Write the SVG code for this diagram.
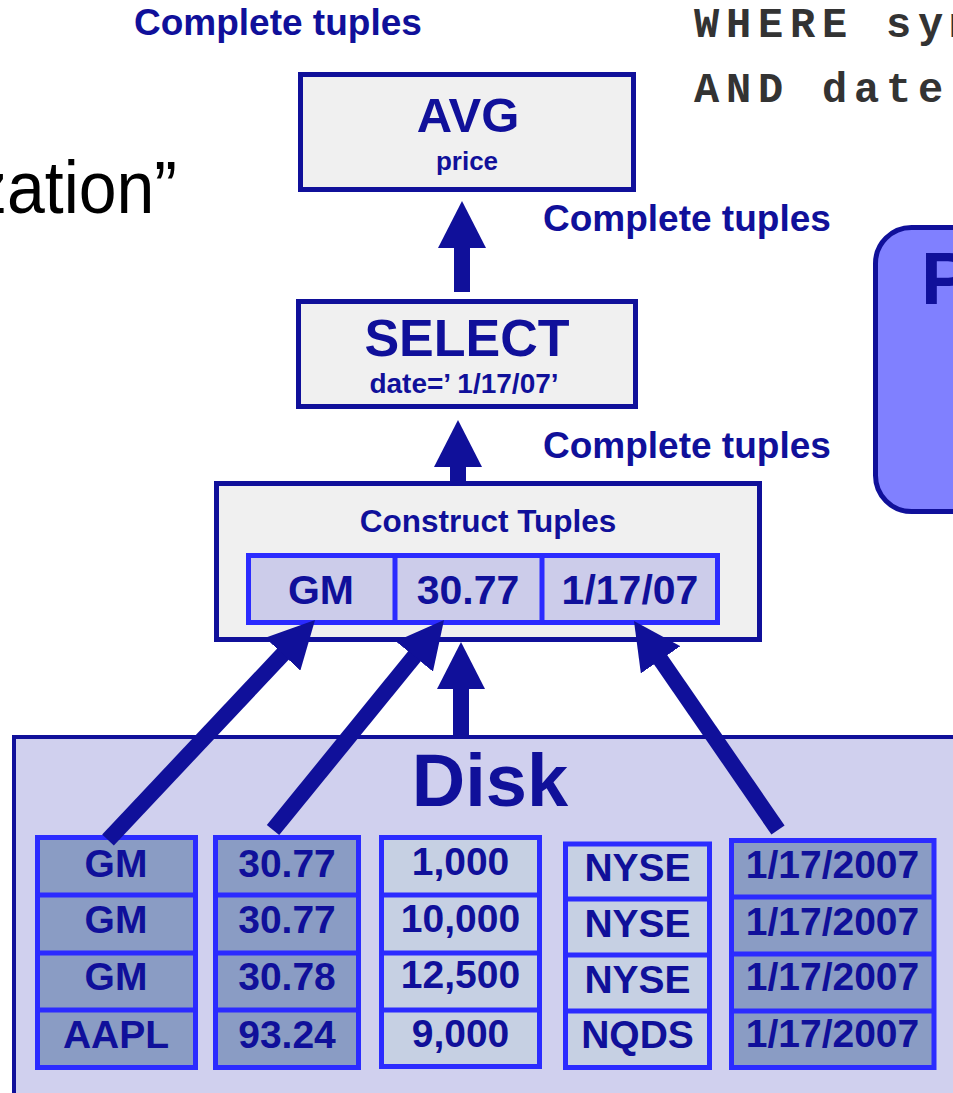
<svg xmlns="http://www.w3.org/2000/svg" width="953" height="1093" viewBox="0 0 953 1093">
<defs>
<style>
.lbl{font-family:"Liberation Sans",Arial,sans-serif;font-weight:bold;fill:#10109a}
.box{fill:#f0f0f0;stroke:#10109a;stroke-width:5}
.cell{stroke:#2b2bff;stroke-width:5}
.div{stroke:#2b2bff;stroke-width:5}
.dark{fill:#8a9cc4}
.light{fill:#c6d0e3}
.ct{font-family:"Liberation Sans",Arial,sans-serif;font-weight:bold;fill:#10109a;font-size:39px;text-anchor:middle}
.mono{font-family:"Liberation Mono","Courier New",monospace;font-weight:bold;font-size:42px;letter-spacing:6.8px;fill:#333333}
.conn{stroke:#10109a;stroke-width:16;fill:none;marker-end:url(#ah)}
</style>
<marker id="ah" viewBox="0 -24 47 48" refX="2" refY="0" markerWidth="47" markerHeight="48" markerUnits="userSpaceOnUse" orient="auto">
<path d="M0,-24 L47,0 L0,24 z" fill="#10109a"/>
</marker>
</defs>
<rect width="953" height="1093" fill="#ffffff"/>

<g id="title-texts">
<text class="lbl" x="134" y="35" font-size="37">Complete tuples</text>
<text class="mono" x="694" y="37">WHERE sym</text>
<text class="mono" x="694" y="102">AND date</text>
<text transform="translate(177,213) scale(1,1.1)" text-anchor="end" font-family="Liberation Sans,Arial,sans-serif" font-size="68" fill="#000000">zation”</text>
<text class="lbl" x="543" y="231" font-size="37">Complete tuples</text>
<text class="lbl" x="543" y="458" font-size="37">Complete tuples</text>
</g>

<g id="side-box">
<rect x="875.5" y="227.5" width="200" height="284" rx="36" fill="#8080ff" stroke="#10109a" stroke-width="5"/>
<text class="lbl" x="921" y="304" font-size="75">P</text>
</g>

<g id="disk">
<rect x="14" y="737" width="1000" height="420" fill="#d0d0ee" stroke="#10109a" stroke-width="4"/>
<text class="lbl" x="490" y="806" font-size="74" text-anchor="middle">Disk</text>
</g>

<g id="col-symbol">
<rect class="cell dark" x="37.5" y="837.5" width="158" height="230"/>
<line class="div" x1="37.5" y1="895" x2="195.5" y2="895"/>
<line class="div" x1="37.5" y1="953" x2="195.5" y2="953"/>
<line class="div" x1="37.5" y1="1010" x2="195.5" y2="1010"/>
<text class="ct" x="116" y="877">GM</text>
<text class="ct" x="116" y="933">GM</text>
<text class="ct" x="116" y="990">GM</text>
<text class="ct" x="116" y="1048">AAPL</text>
</g>

<g id="col-price">
<rect class="cell dark" x="215.5" y="837.5" width="143" height="230"/>
<line class="div" x1="215.5" y1="895" x2="358.5" y2="895"/>
<line class="div" x1="215.5" y1="953" x2="358.5" y2="953"/>
<line class="div" x1="215.5" y1="1010" x2="358.5" y2="1010"/>
<text class="ct" x="287" y="877">30.77</text>
<text class="ct" x="287" y="933">30.77</text>
<text class="ct" x="287" y="990">30.78</text>
<text class="ct" x="287" y="1048">93.24</text>
</g>

<g id="col-volume">
<rect class="cell light" x="381.5" y="837.5" width="158" height="229"/>
<line class="div" x1="381.5" y1="895" x2="539.5" y2="895"/>
<line class="div" x1="381.5" y1="953" x2="539.5" y2="953"/>
<line class="div" x1="381.5" y1="1010" x2="539.5" y2="1010"/>
<text class="ct" x="460.5" y="875">1,000</text>
<text class="ct" x="460.5" y="932">10,000</text>
<text class="ct" x="460.5" y="988">12,500</text>
<text class="ct" x="460.5" y="1047">9,000</text>
</g>

<g id="col-exchange">
<rect class="cell light" x="565.5" y="844" width="144" height="223.5"/>
<line class="div" x1="565.5" y1="899" x2="709.5" y2="899"/>
<line class="div" x1="565.5" y1="955" x2="709.5" y2="955"/>
<line class="div" x1="565.5" y1="1011" x2="709.5" y2="1011"/>
<text class="ct" x="637.5" y="881">NYSE</text>
<text class="ct" x="637.5" y="937">NYSE</text>
<text class="ct" x="637.5" y="993">NYSE</text>
<text class="ct" x="637.5" y="1048">NQDS</text>
</g>

<g id="col-date">
<rect class="cell dark" x="731.5" y="840.5" width="202.5" height="227"/>
<line class="div" x1="731.5" y1="897" x2="934" y2="897"/>
<line class="div" x1="731.5" y1="954" x2="934" y2="954"/>
<line class="div" x1="731.5" y1="1011" x2="934" y2="1011"/>
<text class="ct" x="832.5" y="878">1/17/2007</text>
<text class="ct" x="832.5" y="935">1/17/2007</text>
<text class="ct" x="832.5" y="990">1/17/2007</text>
<text class="ct" x="832.5" y="1047">1/17/2007</text>
</g>

<g id="avg">
<rect class="box" x="300.5" y="74.5" width="333" height="115"/>
<text class="lbl" x="468" y="132" font-size="49" text-anchor="middle">AVG</text>
<text class="lbl" x="467" y="170" font-size="26" text-anchor="middle">price</text>
</g>

<g id="select">
<rect class="box" x="298.5" y="301.5" width="337" height="105"/>
<text class="lbl" x="467" y="356" font-size="52" text-anchor="middle">SELECT</text>
<text class="lbl" x="464" y="393" font-size="28" text-anchor="middle">date=’ 1/17/07’</text>
</g>

<g id="construct">
<rect class="box" x="216.5" y="483.5" width="543" height="156"/>
<text class="lbl" x="488" y="532" font-size="31.5" text-anchor="middle">Construct Tuples</text>
<rect x="248.5" y="555.5" width="469" height="67" fill="#ccccea" stroke="#2b2bff" stroke-width="5"/>
<line class="div" x1="395" y1="555.5" x2="395" y2="622.5"/>
<line class="div" x1="542" y1="555.5" x2="542" y2="622.5"/>
<text class="lbl" x="321" y="604" font-size="41" text-anchor="middle">GM</text>
<text class="lbl" x="468" y="604" font-size="41" text-anchor="middle">30.77</text>
<text class="lbl" x="630" y="604" font-size="41" text-anchor="middle">1/17/07</text>
</g>

<g id="connectors">
<line class="conn" x1="462" y1="292" x2="462" y2="246"/>
<line class="conn" x1="458" y1="481" x2="458" y2="465"/>
<line class="conn" x1="461" y1="737" x2="461" y2="687"/>
<line class="conn" x1="108" y1="840" x2="284.2" y2="652.8"/>
<line class="conn" x1="273" y1="830" x2="415.6" y2="654.9"/>
<line class="conn" x1="778" y1="830" x2="659.5" y2="658.1"/>
</g>
</svg>
